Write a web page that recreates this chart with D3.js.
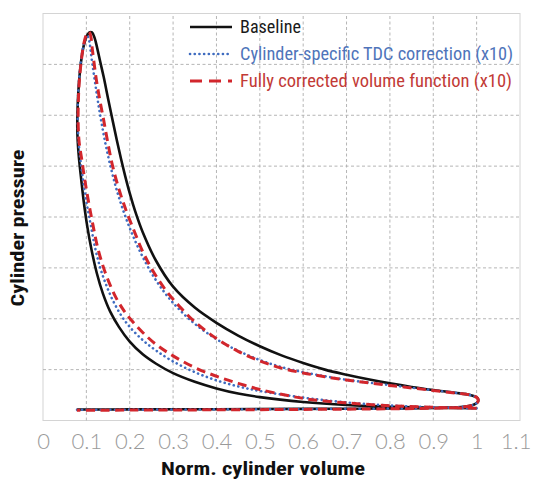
<!DOCTYPE html>
<html>
<head>
<meta charset="utf-8">
<script src="https://cdn.jsdelivr.net/npm/d3@7"></script>
<style>
  html, body { margin: 0; padding: 0; background: #fff; }
  svg { display: block; }
</style>
</head>
<body>
<svg id="chart" width="533" height="481"></svg>
<script>
// ---------- data ----------
const xTickValues = [0, 0.1, 0.2, 0.3, 0.4, 0.5, 0.6, 0.7, 0.8, 0.9, 1.0, 1.1];
const xTickLabels = ["0", "0.1", "0.2", "0.3", "0.4", "0.5", "0.6", "0.7", "0.8", "0.9", "1", "1.1"];
const xGridValues = [0.1, 0.2, 0.3, 0.4, 0.5, 0.6, 0.7, 0.8, 0.9, 1.0];
const yGridValues = [1, 2, 3, 4, 5, 6, 7];

const seriesNames = ["Baseline", "Cylinder-specific TDC correction (x10)", "Fully corrected volume function (x10)"];

// [normalised volume, pressure] along the cycle: compression -> peak -> expansion -> exhaust
const baselineCycle = [
  [1.0,0.24],[0.9,0.25],[0.8,0.27],[0.7,0.305],[0.6,0.365],[0.5,0.46],[0.45,0.53],[0.4,0.63],
  [0.35,0.76],[0.3,0.93],[0.26,1.12],[0.23,1.3],[0.2,1.55],[0.175,1.84],[0.155,2.14],[0.138,2.5],
  [0.124,2.9],[0.112,3.35],[0.102,3.82],[0.094,4.3],[0.088,4.75],[0.083,5.15],[0.08,5.5],
  [0.079,5.8],[0.08,6.2],[0.083,6.65],[0.087,7.0],[0.093,7.33],[0.1,7.54],[0.107,7.63],
  [0.113,7.63],[0.119,7.52],[0.125,7.32],[0.132,7.05],[0.14,6.75],[0.15,6.33],[0.16,5.92],
  [0.17,5.52],[0.18,5.14],[0.19,4.79],[0.2,4.47],[0.215,4.05],[0.23,3.7],[0.26,3.15],
  [0.3,2.63],[0.35,2.22],[0.4,1.92],[0.45,1.67],[0.5,1.46],[0.55,1.28],[0.6,1.13],[0.65,1.0],
  [0.7,0.9],[0.75,0.81],[0.8,0.73],[0.85,0.66],[0.9,0.6],[0.95,0.545],[0.985,0.5],
  [1.002,0.44],[1.003,0.37],[0.993,0.31],[0.97,0.27],[0.92,0.25],[0.8,0.235],[0.6,0.228],
  [0.4,0.222],[0.2,0.218],[0.078,0.215]
];
const tdcCycle = [
  [1.0,0.24],[0.9,0.26],[0.8,0.295],[0.7,0.355],[0.6,0.45],[0.5,0.58],[0.45,0.67],[0.4,0.79],
  [0.35,0.95],[0.3,1.16],[0.26,1.38],[0.23,1.58],[0.2,1.84],[0.18,2.07],[0.16,2.38],[0.145,2.68],
  [0.132,3.0],[0.12,3.4],[0.11,3.85],[0.1,4.3],[0.092,4.75],[0.086,5.15],[0.082,5.5],
  [0.08,5.9],[0.081,6.4],[0.084,6.8],[0.088,7.1],[0.093,7.35],[0.098,7.5],[0.103,7.55],
  [0.107,7.45],[0.11,7.25],[0.114,7.0],[0.12,6.65],[0.127,6.25],[0.135,5.85],[0.145,5.4],
  [0.157,4.95],[0.171,4.5],[0.187,4.08],[0.205,3.68],[0.225,3.3],[0.25,2.9],[0.28,2.52],
  [0.31,2.22],[0.35,1.9],[0.4,1.6],[0.45,1.37],[0.5,1.19],[0.55,1.05],[0.6,0.95],[0.65,0.87],
  [0.7,0.8],[0.75,0.745],[0.8,0.695],[0.85,0.645],[0.9,0.595],[0.95,0.545],[0.985,0.5],
  [1.002,0.44],[1.003,0.37],[0.993,0.31],[0.97,0.27],[0.92,0.25],[0.8,0.235],[0.6,0.225],
  [0.4,0.218],[0.2,0.213],[0.078,0.21]
];
const fullCycle = [
  [1.0,0.24],[0.9,0.26],[0.8,0.29],[0.7,0.345],[0.62,0.41],[0.57,0.48],[0.5,0.61],[0.45,0.73],
  [0.4,0.87],[0.35,1.04],[0.3,1.27],[0.26,1.5],[0.23,1.73],[0.205,1.96],[0.185,2.18],
  [0.168,2.42],[0.152,2.72],[0.139,3.02],[0.126,3.4],[0.115,3.85],[0.105,4.3],[0.096,4.75],
  [0.089,5.15],[0.083,5.5],[0.081,5.9],[0.082,6.4],[0.085,6.8],[0.089,7.12],[0.094,7.4],
  [0.1,7.58],[0.106,7.64],[0.11,7.56],[0.113,7.35],[0.117,7.08],[0.123,6.7],[0.131,6.3],
  [0.14,5.9],[0.149,5.48],[0.16,5.02],[0.175,4.55],[0.192,4.12],[0.21,3.73],[0.23,3.32],
  [0.255,2.92],[0.285,2.54],[0.315,2.24],[0.35,1.94],[0.4,1.61],[0.45,1.36],[0.5,1.17],
  [0.55,1.03],[0.6,0.935],[0.65,0.86],[0.7,0.795],[0.75,0.74],[0.8,0.69],[0.85,0.64],
  [0.9,0.59],[0.95,0.54],[0.985,0.5],[1.002,0.44],[1.003,0.37],[0.993,0.31],[0.97,0.265],
  [0.92,0.245],[0.8,0.23],[0.6,0.218],[0.4,0.21],[0.2,0.205],[0.078,0.2]
];

// ---------- drawing ----------
const svg = d3.select("#chart");
const x = d3.scaleLinear().domain([0, 1.1]).range([43, 520]);
const y = d3.scaleLinear().domain([0, 8]).range([420.5, 13.5]);

const condensed = "'Liberation Sans Narrow','Arial Narrow','Roboto Condensed','DejaVu Sans Condensed',sans-serif";

// frame
svg.append("rect")
  .attr("x", x(0)).attr("y", y(8))
  .attr("width", x(1.1) - x(0)).attr("height", y(0) - y(8))
  .attr("fill", "none").attr("stroke", "#d4d4d4").attr("stroke-width", 1);

// grid
const grid = svg.append("g").attr("stroke", "#b5b5b5").attr("stroke-width", 1)
  .attr("stroke-dasharray", "3,2.5");
grid.selectAll(".gx").data(xGridValues).join("line")
  .attr("x1", d => x(d)).attr("x2", d => x(d))
  .attr("y1", y(0)).attr("y2", y(8));
grid.selectAll(".gy").data(yGridValues).join("line")
  .attr("x1", x(0)).attr("x2", x(1.1))
  .attr("y1", d => y(d)).attr("y2", d => y(d));

// x axis tick labels
const xAxis = d3.axisBottom(x)
  .tickValues(xTickValues)
  .tickFormat((d, i) => xTickLabels[i])
  .tickSize(0).tickPadding(13);
const gx = svg.append("g").attr("transform", `translate(0,${y(0)})`).call(xAxis);
gx.select(".domain").remove();
gx.selectAll("text")
  .attr("fill", "#9a9a9a")
  .style("font-family", "Lato, 'Open Sans', 'DejaVu Sans', sans-serif")
  .style("font-weight", 300)
  .style("font-size", "22px");
// keep the last label inside the picture
gx.selectAll("text").filter((d, i) => i === xTickValues.length - 1)
  .attr("text-anchor", "end").attr("x", 531 - x(1.1));

// curves
const line = d3.line()
  .x(d => x(d[0])).y(d => y(d[1]))
  .curve(d3.curveCatmullRom.alpha(0.5));

svg.append("path").datum(baselineCycle).attr("d", line)
  .attr("fill", "none").attr("stroke", "#111").attr("stroke-width", 2.6)
  .attr("stroke-linejoin", "round");
svg.append("path").datum(tdcCycle).attr("d", line)
  .attr("fill", "none").attr("stroke", "#3f6cc0").attr("stroke-width", 2.6)
  .attr("stroke-dasharray", "0.1,4.6").attr("stroke-linecap", "round");
svg.append("path").datum(fullCycle).attr("d", line)
  .attr("fill", "none").attr("stroke", "#d2262c").attr("stroke-width", 3)
  .attr("stroke-dasharray", "9,5.5");

// legend
const legendRows = [
  { name: seriesNames[0], y: 27, stroke: "#111", width: 2.6, dash: null, cap: "butt", color: "#1a1a1a", len: 61 },
  { name: seriesNames[1], y: 54, stroke: "#3f6cc0", width: 2.6, dash: "0.1,4.6", cap: "round", color: "#4f74ba", len: 273 },
  { name: seriesNames[2], y: 81, stroke: "#d2262c", width: 3, dash: "12,7", cap: "butt", color: "#c23a36", len: 272 }
];
const lg = svg.append("g");
legendRows.forEach(r => {
  const l = lg.append("line")
    .attr("x1", 190).attr("x2", 232).attr("y1", r.y).attr("y2", r.y)
    .attr("stroke", r.stroke).attr("stroke-width", r.width).attr("stroke-linecap", r.cap);
  if (r.dash) l.attr("stroke-dasharray", r.dash);
  lg.append("text")
    .attr("x", 240).attr("y", r.y + 6)
    .attr("fill", r.color)
    .style("font-family", condensed)
    .style("font-size", "17.5px")
    .attr("textLength", r.len).attr("lengthAdjust", "spacingAndGlyphs")
    .text(r.name);
});

// axis titles
svg.append("text")
  .attr("x", 263).attr("y", 475)
  .attr("text-anchor", "middle")
  .attr("fill", "#111")
  .style("font-family", condensed).style("font-weight", "bold").style("font-size", "19px")
  .attr("textLength", 204).attr("lengthAdjust", "spacingAndGlyphs")
  .text("Norm. cylinder volume");

svg.append("text")
  .attr("transform", "translate(24,228) rotate(-90)")
  .attr("text-anchor", "middle")
  .attr("fill", "#111")
  .style("font-family", condensed).style("font-weight", "bold").style("font-size", "19px")
  .attr("textLength", 157).attr("lengthAdjust", "spacingAndGlyphs")
  .text("Cylinder pressure");
</script>
</body>
</html>
